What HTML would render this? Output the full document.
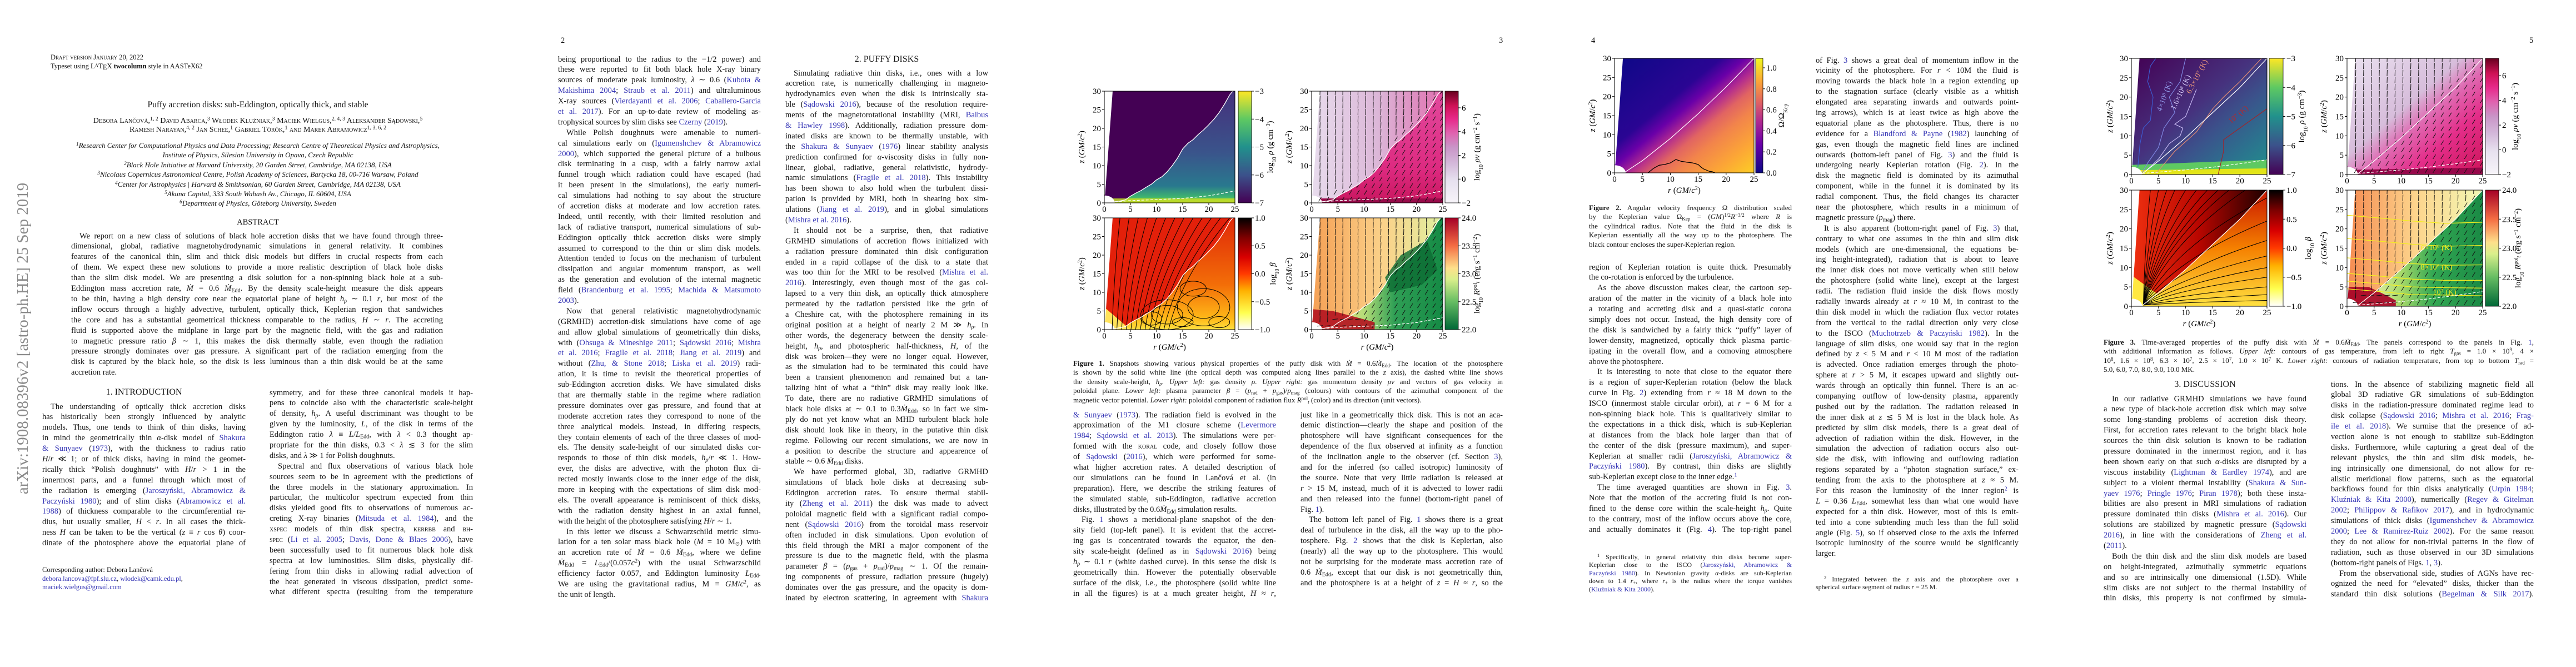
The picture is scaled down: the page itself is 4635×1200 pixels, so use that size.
<!DOCTYPE html>
<html><head><meta charset="utf-8">
<style>
html,body{margin:0;padding:0;background:#fff;}
#root{position:relative;width:4635px;height:1200px;overflow:hidden;background:#fff;font-family:"Liberation Serif",serif;color:#141414;}
.col{position:absolute;font-size:14.5px;line-height:18.9px;}
.l{height:18.9px;overflow:hidden;text-align:justify;text-align-last:justify;white-space:normal;}
.e{text-align-last:left;}
.i{text-indent:15px;}
.c{color:#3535b5;}
.cap{position:absolute;font-size:13px;line-height:16.6px;}
.cap .l{height:16.6px;}
.fn{position:absolute;font-size:12px;line-height:14.6px;}
.fn .l{height:14.6px;}
.s{font-size:70%;vertical-align:-0.25em;line-height:0;}
.u{font-size:70%;vertical-align:0.45em;line-height:0;}
.sc{font-variant:small-caps;}
.pn{position:absolute;font-size:14.5px;line-height:16px;}
.ctr{position:absolute;text-align:center;white-space:nowrap;}
#figs{position:absolute;left:0;top:0;}
</style></head>
<body>
<div id="root">

<!-- PAGE 1 -->
<div class="ctr" style="left:-279px;top:592px;width:640px;font-size:29px;line-height:34px;color:#8a8a8a;transform:rotate(-90deg);">arXiv:1908.08396v2  [astro-ph.HE]  25 Sep 2019</div>
<div style="position:absolute;left:91px;top:96px;font-size:12.5px;line-height:15px;"><span class="sc">Draft version January 20, 2022</span><br>Typeset using L<span style="font-size:9px;vertical-align:2px">A</span>T<span style="vertical-align:-2px">E</span>X <b>twocolumn</b> style in AASTeX62</div>
<div class="ctr" style="left:64px;width:800px;top:180px;font-size:15.5px;">Puffy accretion disks: sub-Eddington, optically thick, and stable</div>
<div class="ctr sc" style="left:64px;width:800px;top:210px;font-size:14px;line-height:16px;">Debora Lančová,<span class="u">1, 2</span> David Abarca,<span class="u">3</span> Włodek Kluźniak,<span class="u">3</span> Maciek Wielgus,<span class="u">2, 4, 3</span> Aleksander Sądowski,<span class="u">5</span><br>Ramesh Narayan,<span class="u">4, 2</span> Jan Schee,<span class="u">1</span> Gabriel Török,<span class="u">1</span> and Marek Abramowicz<span class="u">1, 3, 6, 2</span></div>
<div class="ctr" style="left:64px;width:800px;top:253px;font-size:13px;line-height:17.4px;font-style:italic;"><span class="u">1</span>Research Center for Computational Physics and Data Processing; Research Centre of Theoretical Physics and Astrophysics,<br>Institute of Physics, Silesian University in Opava, Czech Republic<br><span class="u">2</span>Black Hole Initiative at Harvard University, 20 Garden Street, Cambridge, MA 02138, USA<br><span class="u">3</span>Nicolaus Copernicus Astronomical Centre, Polish Academy of Sciences, Bartycka 18, 00-716 Warsaw, Poland<br><span class="u">4</span>Center for Astrophysics | Harvard &amp; Smithsonian, 60 Garden Street, Cambridge, MA 02138, USA<br><span class="u">5</span>Akuna Capital, 333 South Wabash Av., Chicago, IL 60604, USA<br><span class="u">6</span>Department of Physics, Göteborg University, Sweden</div>
<div class="ctr" style="left:364px;width:200px;top:392px;font-size:14.5px;">ABSTRACT</div>
<div class="col" style="left:128px;top:415.6px;width:669px;line-height:18.85px;">
<div class="l i">We report on a new class of solutions of black hole accretion disks that we have found through three-</div>
<div class="l">dimensional, global, radiative magnetohydrodynamic simulations in general relativity. It combines</div>
<div class="l">features of the canonical thin, slim and thick disk models but differs in crucial respects from each</div>
<div class="l">of them. We expect these new solutions to provide a more realistic description of black hole disks</div>
<div class="l">than the slim disk model. We are presenting a disk solution for a non-spinning black hole at a sub-</div>
<div class="l">Eddington mass accretion rate, <i>Ṁ</i> = 0.6 <i>Ṁ</i><span class="s">Edd</span>. By the density scale-height measure the disk appears</div>
<div class="l">to be thin, having a high density core near the equatorial plane of height <i>h<span class="s">ρ</span></i> ∼ 0.1 <i>r</i>, but most of the</div>
<div class="l">inflow occurs through a highly advective, turbulent, optically thick, Keplerian region that sandwiches</div>
<div class="l">the core and has a substantial geometrical thickness comparable to the radius, <i>H</i> ∼ <i>r</i>. The accreting</div>
<div class="l">fluid is supported above the midplane in large part by the magnetic field, with the gas and radiation</div>
<div class="l">to magnetic pressure ratio <i>β</i> ∼ 1, this makes the disk thermally stable, even though the radiation</div>
<div class="l">pressure strongly dominates over gas pressure. A significant part of the radiation emerging from the</div>
<div class="l">disk is captured by the black hole, so the disk is less luminous than a thin disk would be at the same</div>
<div class="l e">accretion rate.</div>
</div>
<div class="ctr" style="left:76px;width:366px;top:697px;">1. INTRODUCTION</div>
<div class="col" style="left:76px;top:722.5px;width:366px;">
<div class="l i">The understanding of optically thick accretion disks</div>
<div class="l">has historically been strongly influenced by analytic</div>
<div class="l">models. Thus, one tends to think of thin disks, having</div>
<div class="l">in mind the geometrically thin <i>α</i>-disk model of <span class="c">Shakura</span></div>
<div class="l"><span class="c">&amp; Sunyaev</span> (<span class="c">1973</span>), with the thickness to radius ratio</div>
<div class="l"><i>H</i>/<i>r</i> ≪ 1; or of thick disks, having in mind the geomet-</div>
<div class="l">rically thick “Polish doughnuts” with <i>H</i>/<i>r</i> &gt; 1 in the</div>
<div class="l">innermost parts, and a funnel through which most of</div>
<div class="l">the radiation is emerging (<span class="c">Jaroszyński, Abramowicz &amp;</span></div>
<div class="l"><span class="c">Paczyński 1980</span>); and of slim disks (<span class="c">Abramowicz et al.</span></div>
<div class="l"><span class="c">1988</span>) of thickness comparable to the circumferential ra-</div>
<div class="l">dius, but usually smaller, <i>H</i> &lt; <i>r</i>. In all cases the thick-</div>
<div class="l">ness <i>H</i> can be taken to be the vertical (<i>z</i> ≡ <i>r</i> cos <i>θ</i>) coor-</div>
<div class="l">dinate of the photosphere above the equatorial plane of</div>
</div>
<div style="position:absolute;left:76px;top:1018px;font-size:12.5px;line-height:15.5px;">Corresponding author: Debora Lančová<br><span class="c">debora.lancova@fpf.slu.cz</span>, <span class="c">wlodek@camk.edu.pl</span>,<br><span class="c">maciek.wielgus@gmail.com</span></div>
<div class="col" style="left:485px;top:697.5px;width:366px;">
<div class="l">symmetry, and for these three canonical models it hap-</div>
<div class="l">pens to coincide also with the characteristic scale-height</div>
<div class="l">of density, <i>h<span class="s">ρ</span></i>. A useful discriminant was thought to be</div>
<div class="l">given by the luminosity, <i>L</i>, of the disk in terms of the</div>
<div class="l">Eddington ratio <i>λ</i> ≡ <i>L</i>/<i>L</i><span class="s">Edd</span>, with <i>λ</i> &lt; 0.3 thought ap-</div>
<div class="l">propriate for the thin disks, 0.3 &lt; <i>λ</i> ≲ 3 for the slim</div>
<div class="l e">disks, and <i>λ</i> ≫ 1 for Polish doughnuts.</div>
<div class="l i">Spectral and flux observations of various black hole</div>
<div class="l">sources seem to be in agreement with the predictions of</div>
<div class="l">the three models in the stationary approximation. In</div>
<div class="l">particular, the multicolor spectrum expected from thin</div>
<div class="l">disks yielded good fits to observations of numerous ac-</div>
<div class="l">creting X-ray binaries (<span class="c">Mitsuda et al. 1984</span>), and the</div>
<div class="l"><span class="sc">xspec</span> models of thin disk spectra, <span class="sc">kerrbb</span> and <span class="sc">bh-</span></div>
<div class="l"><span class="sc">spec</span> (<span class="c">Li et al. 2005</span>; <span class="c">Davis, Done &amp; Blaes 2006</span>), have</div>
<div class="l">been successfully used to fit numerous black hole disk</div>
<div class="l">spectra at low luminosities. Slim disks, physically dif-</div>
<div class="l">fering from thin disks in allowing radial advection of</div>
<div class="l">the heat generated in viscous dissipation, predict some-</div>
<div class="l">what different spectra (resulting from the temperature</div>
</div>

<!-- PAGE 2 -->
<div class="pn" style="left:1009px;top:65px;">2</div>
<div class="col" style="left:1004px;top:97.5px;width:365px;line-height:18.88px;">
<div class="l">being proportional to the radius to the −1/2 power) and</div>
<div class="l">these were reported to fit both black hole X-ray binary</div>
<div class="l">sources of moderate peak luminosity, <i>λ</i> ∼ 0.6 (<span class="c">Kubota &amp;</span></div>
<div class="l"><span class="c">Makishima 2004</span>; <span class="c">Straub et al. 2011</span>) and ultraluminous</div>
<div class="l">X-ray sources (<span class="c">Vierdayanti et al. 2006</span>; <span class="c">Caballero-Garcia</span></div>
<div class="l"><span class="c">et al. 2017</span>). For an up-to-date review of modeling as-</div>
<div class="l e">trophysical sources by slim disks see <span class="c">Czerny</span> (<span class="c">2019</span>).</div>
<div class="l i">While Polish doughnuts were amenable to numeri-</div>
<div class="l">cal simulations early on (<span class="c">Igumenshchev &amp; Abramowicz</span></div>
<div class="l"><span class="c">2000</span>), which supported the general picture of a bulbous</div>
<div class="l">disk terminating in a cusp, with a fairly narrow axial</div>
<div class="l">funnel trough which radiation could have escaped (had</div>
<div class="l">it been present in the simulations), the early numeri-</div>
<div class="l">cal simulations had nothing to say about the structure</div>
<div class="l">of accretion disks at moderate and low accretion rates.</div>
<div class="l">Indeed, until recently, with their limited resolution and</div>
<div class="l">lack of radiative transport, numerical simulations of sub-</div>
<div class="l">Eddington optically thick accretion disks were simply</div>
<div class="l">assumed to correspond to the thin or slim disk models.</div>
<div class="l">Attention tended to focus on the mechanism of turbulent</div>
<div class="l">dissipation and angular momentum transport, as well</div>
<div class="l">as the generation and evolution of the internal magnetic</div>
<div class="l">field (<span class="c">Brandenburg et al. 1995</span>; <span class="c">Machida &amp; Matsumoto</span></div>
<div class="l e"><span class="c">2003</span>).</div>
<div class="l i">Now that general relativistic magnetohydrodynamic</div>
<div class="l">(GRMHD) accretion-disk simulations have come of age</div>
<div class="l">and allow global simulations of geometrically thin disks,</div>
<div class="l">with (<span class="c">Ohsuga &amp; Mineshige 2011</span>; <span class="c">Sądowski 2016</span>; <span class="c">Mishra</span></div>
<div class="l"><span class="c">et al. 2016</span>; <span class="c">Fragile et al. 2018</span>; <span class="c">Jiang et al. 2019</span>) and</div>
<div class="l">without (<span class="c">Zhu, &amp; Stone 2018</span>; <span class="c">Liska et al. 2019</span>) radi-</div>
<div class="l">ation, it is time to revisit the theoretical properties of</div>
<div class="l">sub-Eddington accretion disks. We have simulated disks</div>
<div class="l">that are thermally stable in the regime where radiation</div>
<div class="l">pressure dominates over gas pressure, and found that at</div>
<div class="l">moderate accretion rates they correspond to none of the</div>
<div class="l">three analytical models. Instead, in differing respects,</div>
<div class="l">they contain elements of each of the three classes of mod-</div>
<div class="l">els. The density scale-height of our simulated disks cor-</div>
<div class="l">responds to those of thin disk models, <i>h<span class="s">ρ</span></i>/<i>r</i> ≪ 1. How-</div>
<div class="l">ever, the disks are advective, with the photon flux di-</div>
<div class="l">rected mostly inwards close to the inner edge of the disk,</div>
<div class="l">more in keeping with the expectations of slim disk mod-</div>
<div class="l">els. The overall appearance is reminiscent of thick disks,</div>
<div class="l">with the radiation density highest in an axial funnel,</div>
<div class="l e">with the height of the photosphere satisfying <i>H</i>/<i>r</i> ∼ 1.</div>
<div class="l i">In this letter we discuss a Schwarzschild metric simu-</div>
<div class="l">lation for a ten solar mass black hole (<i>M</i> = 10 M<span class="s">⊙</span>) with</div>
<div class="l">an accretion rate of <i>Ṁ</i> = 0.6 <i>Ṁ</i><span class="s">Edd</span>, where we define</div>
<div class="l"><i>Ṁ</i><span class="s">Edd</span> = <i>L</i><span class="s">Edd</span>/(0.057<i>c</i><span class="u">2</span>) with the usual Schwarzschild</div>
<div class="l">efficiency factor 0.057, and Eddington luminosity <i>L</i><span class="s">Edd</span>.</div>
<div class="l">We are using the gravitational radius, M ≡ <i>GM</i>/<i>c</i><span class="u">2</span>, as</div>
<div class="l e">the unit of length.</div>
</div>
<div class="ctr" style="left:1413px;width:365px;top:98px;">2. PUFFY DISKS</div>
<div class="col" style="left:1413px;top:122.5px;width:365px;line-height:18.88px;">
<div class="l i">Simulating radiative thin disks, i.e., ones with a low</div>
<div class="l">accretion rate, is numerically challenging in magneto-</div>
<div class="l">hydrodynamics even when the disk is intrinsically sta-</div>
<div class="l">ble (<span class="c">Sądowski 2016</span>), because of the resolution require-</div>
<div class="l">ments of the magnetorotational instability (MRI, <span class="c">Balbus</span></div>
<div class="l"><span class="c">&amp; Hawley 1998</span>). Additionally, radiation pressure dom-</div>
<div class="l">inated disks are known to be thermally unstable, with</div>
<div class="l">the <span class="c">Shakura &amp; Sunyaev</span> (<span class="c">1976</span>) linear stability analysis</div>
<div class="l">prediction confirmed for <i>α</i>-viscosity disks in fully non-</div>
<div class="l">linear, global, radiative, general relativistic, hydrody-</div>
<div class="l">namic simulations (<span class="c">Fragile et al. 2018</span>). This instability</div>
<div class="l">has been shown to also hold when the turbulent dissi-</div>
<div class="l">pation is provided by MRI, both in shearing box sim-</div>
<div class="l">ulations (<span class="c">Jiang et al. 2019</span>), and in global simulations</div>
<div class="l e">(<span class="c">Mishra et al. 2016</span>).</div>
<div class="l i">It should not be a surprise, then, that radiative</div>
<div class="l">GRMHD simulations of accretion flows initialized with</div>
<div class="l">a radiation pressure dominated thin disk configuration</div>
<div class="l">ended in a rapid collapse of the disk to a state that</div>
<div class="l">was too thin for the MRI to be resolved (<span class="c">Mishra et al.</span></div>
<div class="l"><span class="c">2016</span>). Interestingly, even though most of the gas col-</div>
<div class="l">lapsed to a very thin disk, an optically thick atmosphere</div>
<div class="l">permeated by the radiation persisted like the grin of</div>
<div class="l">a Cheshire cat, with the photosphere remaining in its</div>
<div class="l">original position at a height of nearly 2 M ≫ <i>h<span class="s">ρ</span></i>. In</div>
<div class="l">other words, the degeneracy between the density scale-</div>
<div class="l">height, <i>h<span class="s">ρ</span></i>, and photospheric half-thickness, <i>H</i>, of the</div>
<div class="l">disk was broken—they were no longer equal. However,</div>
<div class="l">as the simulation had to be terminated this could have</div>
<div class="l">been a transient phenomenon and remained but a tan-</div>
<div class="l">talizing hint of what a “thin” disk may really look like.</div>
<div class="l">To date, there are no radiative GRMHD simulations of</div>
<div class="l">black hole disks at ∼ 0.1 to 0.3<i>Ṁ</i><span class="s">Edd</span>, so in fact we sim-</div>
<div class="l">ply do not yet know what an MHD turbulent black hole</div>
<div class="l">disk should look like in theory, in the putative thin disk</div>
<div class="l">regime. Following our recent simulations, we are now in</div>
<div class="l">a position to describe the structure and appearence of</div>
<div class="l e">stable ∼ 0.6 <i>Ṁ</i><span class="s">Edd</span> disks.</div>
<div class="l i">We have performed global, 3D, radiative GRMHD</div>
<div class="l">simulations of black hole disks at decreasing sub-</div>
<div class="l">Eddington accretion rates. To ensure thermal stabil-</div>
<div class="l">ity (<span class="c">Zheng et al. 2011</span>) the disk was made to advect</div>
<div class="l">poloidal magnetic field with a significant radial compo-</div>
<div class="l">nent (<span class="c">Sądowski 2016</span>) from the toroidal mass reservoir</div>
<div class="l">often included in disk simulations. Upon evolution of</div>
<div class="l">this field through the MRI a major component of the</div>
<div class="l">pressure is due to the magnetic field, with the plasma</div>
<div class="l">parameter <i>β</i> = (<i>p</i><span class="s">gas</span> + <i>p</i><span class="s">rad</span>)/<i>p</i><span class="s">mag</span> ∼ 1. Of the remain-</div>
<div class="l">ing components of pressure, radiation pressure (hugely)</div>
<div class="l">dominates over the gas pressure, and the opacity is dom-</div>
<div class="l">inated by electron scattering, in agreement with <span class="c">Shakura</span></div>
</div>

<!-- PAGE 3 -->
<div class="pn" style="left:2697px;top:65px;">3</div>
<div class="cap" style="left:1931px;top:645.7px;width:773px;line-height:16.5px;">
<div class="l"><b>Figure 1.</b> Snapshots showing various physical properties of the puffy disk with <i>Ṁ</i> = 0.6<i>Ṁ</i><span class="s">Edd</span>. The location of the photosphere</div>
<div class="l">is shown by the solid white line (the optical depth was computed along lines parallel to the <i>z</i> axis), the dashed white line shows</div>
<div class="l">the density scale-height, <i>h<span class="s">ρ</span></i>. <i>Upper left:</i> gas density <i>ρ</i>. <i>Upper right:</i> gas momentum density <i>ρv</i> and vectors of gas velocity in</div>
<div class="l">poloidal plane. <i>Lower left:</i> plasma parameter <i>β</i> = (<i>p</i><span class="s">rad</span> + <i>p</i><span class="s">gas</span>)/<i>p</i><span class="s">mag</span> (colours) with contours of the azimuthal component of the</div>
<div class="l e">magnetic vector potential. <i>Lower right:</i> poloidal component of radiation flux <i>R</i><span class="u">pol</span><span class="s"><i>t</i></span> (color) and its direction (unit vectors).</div>
</div>
<div class="col" style="left:1931px;top:737.5px;width:365px;">
<div class="l"><span class="c">&amp; Sunyaev</span> (<span class="c">1973</span>). The radiation field is evolved in the</div>
<div class="l">approximation of the M1 closure scheme (<span class="c">Levermore</span></div>
<div class="l"><span class="c">1984</span>; <span class="c">Sądowski et al. 2013</span>). The simulations were per-</div>
<div class="l">formed with the <span class="sc">koral</span> code, and closely follow those</div>
<div class="l">of <span class="c">Sądowski</span> (<span class="c">2016</span>), which were performed for some-</div>
<div class="l">what higher accretion rates. A detailed description of</div>
<div class="l">our simulations can be found in Lančová et al. (in</div>
<div class="l">preparation). Here, we describe the striking features of</div>
<div class="l">the simulated stable, sub-Eddington, radiative accretion</div>
<div class="l e">disks, illustrated by the 0.6<i>Ṁ</i><span class="s">Edd</span> simulation results.</div>
<div class="l i">Fig. <span class="c">1</span> shows a meridional-plane snapshot of the den-</div>
<div class="l">sity field (top-left panel). It is evident that the accret-</div>
<div class="l">ing gas is concentrated towards the equator, the den-</div>
<div class="l">sity scale-height (defined as in <span class="c">Sądowski 2016</span>) being</div>
<div class="l"><i>h<span class="s">ρ</span></i> ∼ 0.1 <i>r</i> (white dashed curve). In this sense the disk is</div>
<div class="l">geometrically thin. However the potentially observable</div>
<div class="l">surface of the disk, i.e., the photosphere (solid white line</div>
<div class="l">in all the figures) is at a much greater height, <i>H</i> ≈ <i>r</i>,</div>
</div>
<div class="col" style="left:2340px;top:737.5px;width:364px;">
<div class="l">just like in a geometrically thick disk. This is not an aca-</div>
<div class="l">demic distinction—clearly the shape and position of the</div>
<div class="l">photosphere will have significant consequences for the</div>
<div class="l">dependence of the flux observed at infinity as a function</div>
<div class="l">of the inclination angle to the observer (cf. Section <span class="c">3</span>),</div>
<div class="l">and for the inferred (so called isotropic) luminosity of</div>
<div class="l">the source. Note that very little radiation is released at</div>
<div class="l"><i>r</i> &gt; 15 M, instead, much of it is advected to lower radii</div>
<div class="l">and then released into the funnel (bottom-right panel of</div>
<div class="l e">Fig. <span class="c">1</span>).</div>
<div class="l i">The bottom left panel of Fig. <span class="c">1</span> shows there is a great</div>
<div class="l">deal of turbulence in the disk, all the way up to the pho-</div>
<div class="l">tosphere. Fig. <span class="c">2</span> shows that the disk is Keplerian, also</div>
<div class="l">(nearly) all the way up to the photosphere. This would</div>
<div class="l">not be surprising for the moderate mass accretion rate of</div>
<div class="l">0.6 <i>Ṁ</i><span class="s">Edd</span>, except that our disk is not geometrically thin,</div>
<div class="l">and the photosphere is at a height of <i>z</i> = <i>H</i> ≈ <i>r</i>, so the</div>
</div>

<!-- PAGE 4 -->
<div class="pn" style="left:2863px;top:65px;">4</div>
<div class="cap" style="left:2859px;top:365.6px;width:365px;line-height:16.75px;">
<div class="l"><b>Figure 2.</b> Angular velocity frequency Ω distribution scaled</div>
<div class="l">by the Keplerian value Ω<span class="s">Kep</span> = (<i>GM</i>)<span class="u">1/2</span><i>R</i><span class="u">−3/2</span> where <i>R</i> is</div>
<div class="l">the cylindrical radius. Note that the fluid in the disk is</div>
<div class="l">Keplerian essentially all the way up to the photosphere. The</div>
<div class="l e">black contour encloses the super-Keplerian region.</div>
</div>
<div class="col" style="left:2859px;top:471.5px;width:365px;">
<div class="l">region of Keplerian rotation is quite thick. Presumably</div>
<div class="l e">the co-rotation is enforced by the turbulence.</div>
<div class="l i">As the above discussion makes clear, the cartoon sep-</div>
<div class="l">aration of the matter in the vicinity of a black hole into</div>
<div class="l">a rotating and accreting disk and a quasi-static corona</div>
<div class="l">simply does not occur. Instead, the high density core of</div>
<div class="l">the disk is sandwiched by a fairly thick “puffy” layer of</div>
<div class="l">lower-density, magnetized, optically thick plasma partic-</div>
<div class="l">ipating in the overall flow, and a comoving atmosphere</div>
<div class="l e">above the photosphere.</div>
<div class="l i">It is interesting to note that close to the equator there</div>
<div class="l">is a region of super-Keplerian rotation (below the black</div>
<div class="l">curve in Fig. <span class="c">2</span>) extending from <i>r</i> ≈ 18 M down to the</div>
<div class="l">ISCO (innermost stable circular orbit), at <i>r</i> = 6 M for a</div>
<div class="l">non-spinning black hole. This is qualitatively similar to</div>
<div class="l">the expectations in a thick disk, which is sub-Keplerian</div>
<div class="l">at distances from the black hole larger than that of</div>
<div class="l">the center of the disk (pressure maximum), and super-</div>
<div class="l">Keplerian at smaller radii (<span class="c">Jaroszyński, Abramowicz &amp;</span></div>
<div class="l"><span class="c">Paczyński 1980</span>). By contrast, thin disks are slightly</div>
<div class="l e">sub-Keplerian except close to the inner edge.<span class="u c">1</span></div>
<div class="l i">The time averaged quantities are shown in Fig. <span class="c">3</span>.</div>
<div class="l">Note that the motion of the accreting fluid is not con-</div>
<div class="l">fined to the dense core within the scale-height <i>h<span class="s">ρ</span></i>. Quite</div>
<div class="l">to the contrary, most of the inflow occurs above the core,</div>
<div class="l">and actually dominates it (Fig. <span class="c">4</span>). The top-right panel</div>
</div>
<div class="fn" style="left:2859px;top:994.7px;width:365px;">
<div class="l i"><span class="u">1</span> Specifically, in general relativity thin disks become super-</div>
<div class="l">Keplerian close to the ISCO (<span class="c">Jaroszyński, Abramowicz &amp;</span></div>
<div class="l"><span class="c">Paczyński 1980</span>). In Newtonian gravity <i>α</i>-disks are sub-Keplerian</div>
<div class="l">down to 1.4 <i>r</i><span class="s">+</span>, where <i>r</i><span class="s">+</span> is the radius where the torque vanishes</div>
<div class="l e">(<span class="c">Kluźniak &amp; Kita 2000</span>).</div>
</div>
<div class="col" style="left:3267px;top:99.5px;width:365px;line-height:18.85px;">
<div class="l">of Fig. <span class="c">3</span> shows a great deal of momentum inflow in the</div>
<div class="l">vicinity of the photosphere. For <i>r</i> &lt; 10M the fluid is</div>
<div class="l">moving towards the black hole in a region extending up</div>
<div class="l">to the stagnation surface (clearly visible as a whitish</div>
<div class="l">elongated area separating inwards and outwards point-</div>
<div class="l">ing arrows), which is at least twice as high above the</div>
<div class="l">equatorial plane as the photosphere. Thus, there is no</div>
<div class="l">evidence for a <span class="c">Blandford &amp; Payne</span> (<span class="c">1982</span>) launching of</div>
<div class="l">gas, even though the magnetic field lines are inclined</div>
<div class="l">outwards (bottom-left panel of Fig. <span class="c">3</span>) and the fluid is</div>
<div class="l">undergoing nearly Keplerian rotation (Fig. <span class="c">2</span>). In the</div>
<div class="l">disk the magnetic field is dominated by its azimuthal</div>
<div class="l">component, while in the funnel it is dominated by its</div>
<div class="l">radial component. Thus, the field changes its character</div>
<div class="l">near the photosphere, which results in a minimum of</div>
<div class="l e">magnetic pressure (<i>p</i><span class="s">mag</span>) there.</div>
<div class="l i">It is also apparent (bottom-right panel of Fig. <span class="c">3</span>) that,</div>
<div class="l">contrary to what one assumes in the thin and slim disk</div>
<div class="l">models (which are one-dimensional, the equations be-</div>
<div class="l">ing height-integrated), radiation that is about to leave</div>
<div class="l">the inner disk does not move vertically when still below</div>
<div class="l">the photosphere (solid white line), except at the largest</div>
<div class="l">radii. The radiation fluid inside the disk flows mostly</div>
<div class="l">radially inwards already at <i>r</i> ≈ 10 M, in contrast to the</div>
<div class="l">thin disk model in which the radiation flux vector rotates</div>
<div class="l">from the vertical to the radial direction only very close</div>
<div class="l">to the ISCO (<span class="c">Muchotrzeb &amp; Paczyński 1982</span>). In the</div>
<div class="l">language of slim disks, one would say that in the region</div>
<div class="l">defined by <i>z</i> &lt; 5 M and <i>r</i> &lt; 10 M most of the radiation</div>
<div class="l">is advected. Once radiation emerges through the photo-</div>
<div class="l">sphere at <i>r</i> &gt; 5 M, it escapes upward and slightly out-</div>
<div class="l">wards through an optically thin funnel. There is an ac-</div>
<div class="l">companying outflow of low-density plasma, apparently</div>
<div class="l">pushed out by the radiation. The radiation released in</div>
<div class="l">the inner disk at <i>z</i> ≲ 5 M is lost in the black hole. As</div>
<div class="l">predicted by slim disk models, there is a great deal of</div>
<div class="l">advection of radiation within the disk. However, in the</div>
<div class="l">simulation the advection of radiation occurs also out-</div>
<div class="l">side the disk, with inflowing and outflowing radiation</div>
<div class="l">regions separated by a “photon stagnation surface,” ex-</div>
<div class="l">tending from the axis to the photosphere at <i>z</i> ≈ 5 M.</div>
<div class="l">For this reason the luminosity of the inner region<span class="u c">2</span> is</div>
<div class="l"><i>L</i> = 0.36 <i>L</i><span class="s">Edd</span>, somewhat less than what one would have</div>
<div class="l">expected for a thin disk. However, most of this is emit-</div>
<div class="l">ted into a cone subtending much less than the full solid</div>
<div class="l">angle (Fig. <span class="c">5</span>), so if observed close to the axis the inferred</div>
<div class="l">isotropic luminosity of the source would be significantly</div>
<div class="l e">larger.</div>
</div>
<div class="fn" style="left:3267px;top:1034.7px;width:365px;">
<div class="l i"><span class="u">2</span> Integrated between the <i>z</i> axis and the photosphere over a</div>
<div class="l e">spherical surface segment of radius <i>r</i> = 25 M.</div>
</div>

<!-- PAGE 5 -->
<div class="pn" style="left:4551px;top:65px;">5</div>
<div class="cap" style="left:3785px;top:607.6px;width:774px;line-height:16.75px;">
<div class="l"><b>Figure 3.</b> Time-averaged properties of the puffy disk with <i>Ṁ</i> = 0.6<i>Ṁ</i><span class="s">Edd</span>. The panels correspond to the panels in Fig. <span class="c">1</span>,</div>
<div class="l">with additional information as follows. <i>Upper left:</i> contours of gas temperature, from left to right <i>T</i><span class="s">gas</span> = 1.0 × 10<span class="u">9</span>, 4 ×</div>
<div class="l">10<span class="u">8</span>, 1.6 × 10<span class="u">8</span>, 6.3 × 10<span class="u">7</span>, 2.5 × 10<span class="u">7</span>, 1.0 × 10<span class="u">7</span> K. <i>Lower right:</i> contours of radiation temperature, from top to bottom <i>T</i><span class="s">rad</span> =</div>
<div class="l e">5.0, 6.0, 7.0, 8.0, 9.0, 10.0 MK.</div>
</div>
<div class="ctr" style="left:3785px;width:365px;top:683px;">3. DISCUSSION</div>
<div class="col" style="left:3785px;top:708.5px;width:365px;">
<div class="l i">In our radiative GRMHD simulations we have found</div>
<div class="l">a new type of black-hole accretion disk which may solve</div>
<div class="l">some long-standing problems of accretion disk theory.</div>
<div class="l">First, for accretion rates relevant to the bright black hole</div>
<div class="l">sources the thin disk solution is known to be radiation</div>
<div class="l">pressure dominated in the innermost region, and it has</div>
<div class="l">been shown early on that such <i>α</i>-disks are disrupted by a</div>
<div class="l">viscous instability (<span class="c">Lightman &amp; Eardley 1974</span>), and are</div>
<div class="l">subject to a violent thermal instability (<span class="c">Shakura &amp; Sun-</span></div>
<div class="l"><span class="c">yaev 1976</span>; <span class="c">Pringle 1976</span>; <span class="c">Piran 1978</span>); both these insta-</div>
<div class="l">bilities are also present in MRI simulations of radiation</div>
<div class="l">pressure dominated thin disks (<span class="c">Mishra et al. 2016</span>). Our</div>
<div class="l">solutions are stabilized by magnetic pressure (<span class="c">Sądowski</span></div>
<div class="l"><span class="c">2016</span>), in line with the considerations of <span class="c">Zheng et al.</span></div>
<div class="l e">(<span class="c">2011</span>).</div>
<div class="l i">Both the thin disk and the slim disk models are based</div>
<div class="l">on height-integrated, azimuthally symmetric equations</div>
<div class="l">and so are intrinsically one dimensional (1.5D). While</div>
<div class="l">slim disks are not subject to the thermal instability of</div>
<div class="l">thin disks, this property is not confirmed by simula-</div>
</div>
<div class="col" style="left:4194px;top:682.5px;width:365px;line-height:18.95px;">
<div class="l">tions. In the absence of stabilizing magnetic field all</div>
<div class="l">global 3D radiative GR simulations of sub-Eddington</div>
<div class="l">disks in the radiation-pressure dominated regime lead to</div>
<div class="l">disk collapse (<span class="c">Sądowski 2016</span>; <span class="c">Mishra et al. 2016</span>; <span class="c">Frag-</span></div>
<div class="l"><span class="c">ile et al. 2018</span>). We surmise that the presence of ad-</div>
<div class="l">vection alone is not enough to stabilize sub-Eddington</div>
<div class="l">disks. Furthermore, while capturing a great deal of the</div>
<div class="l">relevant physics, the thin and slim disk models, be-</div>
<div class="l">ing intrinsically one dimensional, do not allow for re-</div>
<div class="l">alistic meridional flow patterns, such as the equatorial</div>
<div class="l">backflows found for thin disks analytically (<span class="c">Urpin 1984</span>;</div>
<div class="l"><span class="c">Kluźniak &amp; Kita 2000</span>), numerically (<span class="c">Regev &amp; Gitelman</span></div>
<div class="l"><span class="c">2002</span>; <span class="c">Philippov &amp; Rafikov 2017</span>), and in hydrodynamic</div>
<div class="l">simulations of thick disks (<span class="c">Igumenshchev &amp; Abramowicz</span></div>
<div class="l"><span class="c">2000</span>; <span class="c">Lee &amp; Ramirez-Ruiz 2002</span>). For the same reason</div>
<div class="l">they do not allow for non-trivial patterns in the flow of</div>
<div class="l">radiation, such as those observed in our 3D simulations</div>
<div class="l e">(bottom-right panels of Figs. <span class="c">1</span>, <span class="c">3</span>).</div>
<div class="l i">From the observational side, studies of AGNs have rec-</div>
<div class="l">ognized the need for “elevated” disks, thicker than the</div>
<div class="l">standard thin disk solutions (<span class="c">Begelman &amp; Silk 2017</span>).</div>
</div>

<svg id="figs" width="4635" height="1200" viewBox="0 0 4635 1200" font-family="Liberation Serif, serif">
<defs>
<linearGradient id="g-viridis" x1="0" y1="1" x2="0" y2="0"><stop offset="0" stop-color="#440154"/><stop offset=".25" stop-color="#3b528b"/><stop offset=".5" stop-color="#21918c"/><stop offset=".75" stop-color="#5ec962"/><stop offset="1" stop-color="#fde725"/></linearGradient>
<linearGradient id="g-purd" x1="0" y1="1" x2="0" y2="0"><stop offset="0" stop-color="#f7f4f9"/><stop offset=".2" stop-color="#e7e1ef"/><stop offset=".35" stop-color="#d4b9da"/><stop offset=".5" stop-color="#c994c7"/><stop offset=".62" stop-color="#df65b0"/><stop offset=".75" stop-color="#e7298a"/><stop offset=".87" stop-color="#ce1256"/><stop offset="1" stop-color="#67001f"/></linearGradient>
<linearGradient id="g-hot" x1="0" y1="1" x2="0" y2="0"><stop offset="0" stop-color="#ffffff"/><stop offset=".15" stop-color="#ffff50"/><stop offset=".35" stop-color="#ffb000"/><stop offset=".5" stop-color="#ff3a00"/><stop offset=".65" stop-color="#d80000"/><stop offset=".82" stop-color="#800000"/><stop offset="1" stop-color="#000000"/></linearGradient>
<linearGradient id="g-rdylgn" x1="0" y1="1" x2="0" y2="0"><stop offset="0" stop-color="#006837"/><stop offset=".25" stop-color="#66bd63"/><stop offset=".45" stop-color="#d9ef8b"/><stop offset=".55" stop-color="#fee08b"/><stop offset=".75" stop-color="#f46d43"/><stop offset="1" stop-color="#a50026"/></linearGradient>
<linearGradient id="g-plasma" x1="0" y1="1" x2="0" y2="0"><stop offset="0" stop-color="#0d0887"/><stop offset=".25" stop-color="#6a00a8"/><stop offset=".45" stop-color="#b12a90"/><stop offset=".62" stop-color="#e16462"/><stop offset=".8" stop-color="#fca636"/><stop offset="1" stop-color="#f0f921"/></linearGradient>
<linearGradient id="f1tl-disk" x1="0" y1="0" x2="0" y2="1"><stop offset="0" stop-color="#45307c"/><stop offset=".55" stop-color="#3a548b"/><stop offset=".85" stop-color="#29798e"/><stop offset=".95" stop-color="#3fb56f"/><stop offset="1" stop-color="#c8e020"/></linearGradient>
<linearGradient id="f1tr-bg" x1="0" y1="0" x2="1" y2="0"><stop offset="0" stop-color="#e8dced"/><stop offset=".5" stop-color="#dcb7d8"/><stop offset="1" stop-color="#e070b0"/></linearGradient>
<linearGradient id="f1tr-disk" x1="0" y1="0" x2="0" y2="1"><stop offset="0" stop-color="#e24a9e"/><stop offset=".7" stop-color="#dd2a80"/><stop offset="1" stop-color="#c8165e"/></linearGradient>
<linearGradient id="f1bl-disk" x1="0" y1="0" x2="0" y2="1"><stop offset="0" stop-color="#e02808"/><stop offset=".6" stop-color="#f36e08"/><stop offset=".9" stop-color="#ffb818"/><stop offset="1" stop-color="#ffe040"/></linearGradient>
<linearGradient id="f1br-bg" x1="0" y1="0" x2="1" y2="0"><stop offset="0" stop-color="#f5a055"/><stop offset=".55" stop-color="#fbd28a"/><stop offset="1" stop-color="#dff0a0"/></linearGradient>
<linearGradient id="f1br-disk" x1="0" y1="0" x2="1" y2="0"><stop offset="0" stop-color="#fde08b"/><stop offset=".35" stop-color="#b5dd78"/><stop offset=".6" stop-color="#2f9f55"/><stop offset="1" stop-color="#158a45"/></linearGradient>
<linearGradient id="f2-bg" x1="0" y1="0" x2="1" y2="1"><stop offset="0" stop-color="#0d0887"/><stop offset=".38" stop-color="#2a0593"/><stop offset=".47" stop-color="#6a00a8"/><stop offset=".55" stop-color="#b12a90"/><stop offset=".63" stop-color="#e16462"/><stop offset=".72" stop-color="#f2844b"/><stop offset=".86" stop-color="#fca636"/><stop offset="1" stop-color="#fcce25"/></linearGradient>
<linearGradient id="f3tl-bg" x1="0" y1="0" x2="1" y2="1"><stop offset="0" stop-color="#440154"/><stop offset=".45" stop-color="#46327e"/><stop offset=".62" stop-color="#3b528b"/><stop offset=".8" stop-color="#2c718e"/><stop offset="1" stop-color="#21918c"/></linearGradient>
<linearGradient id="f3tr-bg" x1="0" y1="0" x2="1" y2="1"><stop offset="0" stop-color="#eae2f0"/><stop offset=".42" stop-color="#d7bddb"/><stop offset=".55" stop-color="#df6ab2"/><stop offset=".72" stop-color="#e42e8a"/><stop offset="1" stop-color="#cc1458"/></linearGradient>
<linearGradient id="f3bl-bg" x1="0" y1="0" x2="1" y2="0"><stop offset="0" stop-color="#f03010"/><stop offset=".5" stop-color="#b80600"/><stop offset="1" stop-color="#1c0000"/></linearGradient>
<linearGradient id="f3bl-disk" x1="0" y1="0" x2="0" y2="1"><stop offset="0" stop-color="#c81500"/><stop offset=".5" stop-color="#f58000"/><stop offset="1" stop-color="#ffe040"/></linearGradient>
<linearGradient id="f3br-bg" x1="0" y1="0" x2="1" y2="0"><stop offset="0" stop-color="#f58a50"/><stop offset=".5" stop-color="#fdd48c"/><stop offset="1" stop-color="#f2f8b4"/></linearGradient>
<linearGradient id="f3br-disk" x1="0" y1="0" x2="1" y2="0"><stop offset="0" stop-color="#fffcc0"/><stop offset=".35" stop-color="#a6d96a"/><stop offset=".6" stop-color="#33a853"/><stop offset="1" stop-color="#1a8a45"/></linearGradient>
</defs>
</svg>
</div>

<script>
// ---- chart data ----
const rTicks=[0,5,10,15,20,25];
const zTicks=[0,5,10,15,20,25,30];
const cbRhoTicks=[-7,-6,-5,-4,-3];
const cbRhoVTicks=[-2,0,2,4,6];
const cbBetaTicks=[-1.0,-0.5,0.0,0.5,1.0];
const cbRadTicks=[22.0,22.5,23.0,23.5,24.0];
const cbOmegaTicks=[0.0,0.2,0.4,0.6,0.8,1.0];
const cbRhoRange=[-7,-3];
const cbRhoVRange=[-2,7.4];
const cbBetaRange=[-1,1];
const cbRadRange=[22,24];
const cbOmegaRange=[0,1.09];
const fig1PhotoR=[2,3,4,5,6,7,8,9,10,11,12,13,14,15,16,17,18,19,20,21,22,23,24,24.6];
const fig1PhotoZ=[0.3,0.5,0.8,1.8,2.6,3.3,4.2,5.0,6.2,7.0,8.3,10,12,14.5,16,17,18.4,19.6,21,22.5,24.3,26.5,29,30];
const fig1ScaleR=[2,5,10,15,20,25];
const fig1ScaleZ=[0.3,0.6,0.9,1.2,1.9,3.2];
const fig2PhotoR=[2,5,10,15,20,25];
const fig2PhotoZ=[0.3,3.2,9,15.5,22.5,30];
const superKepR=[6,7,8,9,10,11,12,13,14,15,15.5,16,17,17.5,18];
const superKepZ=[0,1.2,2,2.2,2.6,3.5,3.0,2.8,2.6,2.2,1.5,1.0,0.4,0.3,0];
const fig3PhotoR=[2,5,10,15,20,25];
const fig3PhotoZ=[0.2,3.5,9.5,16,22.5,30];
const fig3ScaleR=[2,5,10,15,20,25];
const fig3ScaleZ=[0.3,0.6,1.2,1.9,2.8,3.8];
const tradLevelsZ=[22,16,11,7,5,3];

const NS='http://www.w3.org/2000/svg';
const svg=document.getElementById('figs');
function mk(tag,attrs,parent){const e=document.createElementNS(NS,tag);for(const k in attrs)e.setAttribute(k,attrs[k]);(parent||svg).appendChild(e);return e;}
function fmt(v,d){return v.toFixed(d).replace('-','−');}
function interp(R,Z,r){if(r<=R[0])return Z[0];for(let i=1;i<R.length;i++){if(r<=R[i]){const t=(r-R[i-1])/(R[i]-R[i-1]);return Z[i-1]+t*(Z[i]-Z[i-1]);}}return Z[Z.length-1];}
function ptsStr(R,Z,p){return R.map((r,i)=>p.X(r).toFixed(1)+','+p.Y(Z[i]).toFixed(1)).join(' ');}

function panel(c){
  const g=mk('g',{});
  
  
  const p={c,g,X:r=>c.px+r/25*c.pw,Y:z=>c.py+c.ph-z/30*c.ph};
  const cp=mk('clipPath',{id:'clip-'+c.name},g);
  mk('rect',{x:c.px,y:c.py,width:c.pw,height:c.ph},cp);
  p.inner=mk('g',{'clip-path':'url(#clip-'+c.name+')'},g);
  return p;
}
function fillBg(p,fill){
  const r=mk('rect',{x:p.c.px,y:p.c.py,width:p.c.pw,height:p.c.ph,fill:fill},p.inner);
  
  
}
function diskRegion(p,R,Z,fill){
  let rr=R.slice(),zz=Z.slice();
  if(zz[zz.length-1]>=30&&rr[rr.length-1]<25){rr.push(25);zz.push(30);}
  rr.push(25);zz.push(0);rr.push(R[0]);zz.push(0);
  const e=mk('polygon',{points:ptsStr(rr,zz,p),fill:fill},p.inner);
  
  
}
function shape(p,R,Z,fill,name,op){
  const e=mk('polygon',{points:ptsStr(R,Z,p),fill:fill,opacity:op||1},p.inner);
  
  
}
function curve(p,R,Z,stroke,w,dash,name){
  const e=mk('polyline',{points:ptsStr(R,Z,p),fill:'none',stroke:stroke,'stroke-width':w,'stroke-dasharray':dash||'none'},p.inner);
  
  
}
function blackHole(p,wedgeTop){
  shape(p,[0,wedgeTop,0.15,0],[30,30,2.2,2.2],'#ffffff','funnel-mask');
  const e=mk('ellipse',{cx:p.X(0),cy:p.Y(0),rx:2/25*p.c.pw,ry:2/30*p.c.ph,fill:'#ffffff'},p.inner);
  
  
}
function arrows(p,R,Z,mode){
  const g=mk('g',{stroke:'#111','stroke-width':1},p.inner);
  
  
  for(let r=1.6;r<25;r+=1.45){for(let z=1;z<30;z+=1.8){
    const zp=interp(R,Z,r);let dx,dy;
    if(z>zp+1.5){dx=0.4;dy=-11;}
    else if(mode==='rad'&&z<4&&r<10){dx=-10;dy=1;}
    else{dx=5;dy=-8;}
    const x=p.X(r),y=p.Y(z);
    const ln=mk('line',{x1:(x-dx/2).toFixed(1),y1:(y-dy/2).toFixed(1),x2:(x+dx/2).toFixed(1),y2:(y+dy/2).toFixed(1)},g);
    
    
  }}
}
function axes(p,showXLabel,yLabelX){
  const c=p.c,g=p.g;
  const fr=mk('rect',{x:c.px,y:c.py,width:c.pw,height:c.ph,fill:'none',stroke:'#000','stroke-width':1},g);
  
  
  zTicks.forEach(t=>{const y=p.Y(t);
    const tk=mk('line',{x1:c.px-4,y1:y,x2:c.px,y2:y,stroke:'#000'},g);
    
    
    const tx=mk('text',{x:c.px-6,y:y+5,'text-anchor':'end','font-size':15},g);tx.textContent=String(t);
    
    });
  rTicks.forEach(t=>{const x=p.X(t);
    const tk=mk('line',{x1:x,y1:c.py+c.ph,x2:x,y2:c.py+c.ph+4,stroke:'#000'},g);
    
    
    const tx=mk('text',{x:x,y:c.py+c.ph+16,'text-anchor':'middle','font-size':15},g);tx.textContent=String(t);
    
    });
  const yl=mk('text',{x:0,y:0,'text-anchor':'middle','font-size':15,transform:'translate('+yLabelX+','+(c.py+c.ph/2)+') rotate(-90)'},g);
  yl.innerHTML='<tspan font-style="italic">z</tspan>  (<tspan font-style="italic">GM</tspan>/<tspan font-style="italic">c</tspan><tspan baseline-shift="super" font-size="10">2</tspan>)';
  
  
  if(showXLabel){
    const xl=mk('text',{x:c.px+c.pw/2,y:c.py+c.ph+36,'text-anchor':'middle','font-size':15},g);
    xl.innerHTML='<tspan font-style="italic">r</tspan>   (<tspan font-style="italic">GM</tspan>/<tspan font-style="italic">c</tspan><tspan baseline-shift="super" font-size="10">2</tspan>)';
    
    
  }
}
function colorbar(c){
  const g=mk('g',{});
  
  
  const r=mk('rect',{x:c.x,y:c.y,width:c.w,height:c.h,fill:'url(#'+c.grad+')',stroke:'#000','stroke-width':0.8},g);
  
  
  c.ticks.forEach(t=>{const y=c.y+c.h-(t-c.range[0])/(c.range[1]-c.range[0])*c.h;
    const tk=mk('line',{x1:c.x+c.w,y1:y,x2:c.x+c.w+4,y2:y,stroke:'#000'},g);
    
    
    const tx=mk('text',{x:c.x+c.w+6,y:y+5,'font-size':15},g);tx.textContent=fmt(t,c.dec);
    
    });
  const lb=mk('text',{x:0,y:0,'text-anchor':'middle','font-size':15,transform:'translate('+c.lx+','+(c.y+c.h/2)+') rotate(-90)'},g);
  lb.innerHTML=c.label;
  
  
}
const LBL_RHO='log<tspan baseline-shift="sub" font-size="10">10</tspan> <tspan font-style="italic">ρ</tspan>   (g cm<tspan baseline-shift="super" font-size="10">−3</tspan>)';
const LBL_RHOV='log<tspan baseline-shift="sub" font-size="10">10</tspan> <tspan font-style="italic">ρv</tspan>   (g cm<tspan baseline-shift="super" font-size="10">−2</tspan> s<tspan baseline-shift="super" font-size="10">−1</tspan>)';
const LBL_BETA='log<tspan baseline-shift="sub" font-size="10">10</tspan> <tspan font-style="italic">β</tspan>';
const LBL_RAD='log<tspan baseline-shift="sub" font-size="10">10</tspan> <tspan font-style="italic">R</tspan><tspan baseline-shift="super" font-size="10">pol</tspan><tspan font-size="10" font-style="italic">t</tspan>   (erg s<tspan baseline-shift="super" font-size="10">−1</tspan> cm<tspan baseline-shift="super" font-size="10">−2</tspan>)';
const LBL_OMEGA='Ω/Ω<tspan baseline-shift="sub" font-size="10">Kep</tspan>';

// ===== Figure 1 (page 3) =====
(function(){
  const L=1987,R=2360,W=236,T1=164,T2=392,H=201;
  // upper left: density
  let p=panel({name:'fig1-density-panel',px:L,py:T1,pw:W-1,ph:H});
  fillBg(p,'#440154'); diskRegion(p,fig1PhotoR,fig1PhotoZ,'url(#f1tl-disk)');
  shape(p,[0,25,25,0],[1.2,1.2,0,0],'#bfdc28','equatorial-core',0.85);
  blackHole(p,1.6);
  curve(p,fig1PhotoR,fig1PhotoZ,'#fff',1.3,null,'photosphere-line');
  curve(p,fig1ScaleR,fig1ScaleZ,'#fff',1.3,'5,3','scale-height-line');
  axes(p,false,1951);
  colorbar({name:'fig1-density-colorbar',x:2228,y:T1,w:24,h:H,grad:'g-viridis',ticks:cbRhoTicks,range:cbRhoRange,dec:0,lx:2290,label:LBL_RHO});
  // upper right: momentum density
  p=panel({name:'fig1-momentum-panel',px:R,py:T1,pw:W,ph:H});
  fillBg(p,'url(#f1tr-bg)'); diskRegion(p,fig1PhotoR,fig1PhotoZ,'url(#f1tr-disk)');
  shape(p,[0,25,25,0],[1.2,1.2,0,0],'#980b4a','equatorial-core');
  blackHole(p,1.6);
  arrows(p,fig1PhotoR,fig1PhotoZ,'gas');
  curve(p,fig1PhotoR,fig1PhotoZ,'#fff',1.3,null,'photosphere-line');
  curve(p,fig1ScaleR,fig1ScaleZ,'#fff',1.3,'5,3','scale-height-line');
  axes(p,false,2324);
  colorbar({name:'fig1-momentum-colorbar',x:2600,y:T1,w:24,h:H,grad:'g-purd',ticks:cbRhoVTicks,range:cbRhoVRange,dec:0,lx:2662,label:LBL_RHOV});
  // lower left: beta
  p=panel({name:'fig1-beta-panel',px:L,py:T2,pw:W-1,ph:H});
  fillBg(p,'#e3200a'); diskRegion(p,fig1PhotoR,fig1PhotoZ,'url(#f1bl-disk)');
  shape(p,[0,0,5,3],[0,6,0,0],'#ffe35a','inner-yellow-region');
  blackHole(p,1.6);
  const cg=mk('g',{fill:'none',stroke:'#000','stroke-width':1},p.inner);
  
  
  for(let i=0;i<13;i++){const r0=1.5+i*0.9,r1=3+i*1.75;
    const path=mk('path',{d:'M'+p.X(r0)+','+p.Y(0)+' Q'+p.X(r0+ (r1-r0)*0.2)+','+p.Y(14)+' '+p.X(r1)+','+p.Y(30)},cg);
    
    }
  [[12,4,3,2.5],[12,4,5,4],[19,6,3,3],[19,6,5,5],[15,2,2,1.2],[22,2,2,1.5],[9,3,2,1.8],[17,11,2.5,2]].forEach(e=>{
    const el=mk('ellipse',{cx:p.X(e[0]),cy:p.Y(e[1]),rx:e[2]/25*W,ry:e[3]/30*H},cg);
    
    });
  curve(p,fig1PhotoR,fig1PhotoZ,'#fff',1.3,null,'photosphere-line');
  axes(p,true,1951);
  colorbar({name:'fig1-beta-colorbar',x:2228,y:T2,w:24,h:H,grad:'g-hot',ticks:cbBetaTicks,range:cbBetaRange,dec:1,lx:2295,label:LBL_BETA});
  // lower right: radiation flux
  p=panel({name:'fig1-radiation-panel',px:R,py:T2,pw:W,ph:H});
  fillBg(p,'url(#f1br-bg)'); diskRegion(p,fig1PhotoR,fig1PhotoZ,'url(#f1br-disk)');
  shape(p,[15,21,24,22,17,14],[10,12,16,24,20,14],'#0d6b33','dark-green-region',0.8);
  shape(p,[0,0,4,8,12,12],[0,5.5,5,3.5,2,0],'#b3121f','inner-red-region',0.9);
  blackHole(p,1.6);
  arrows(p,fig1PhotoR,fig1PhotoZ,'rad');
  curve(p,fig1PhotoR,fig1PhotoZ,'#fff',1.3,null,'photosphere-line');
  curve(p,fig1ScaleR,fig1ScaleZ,'#fff',1.3,'5,3','scale-height-line');
  axes(p,true,2324);
  colorbar({name:'fig1-radiation-colorbar',x:2600,y:T2,w:24,h:H,grad:'g-rdylgn',ticks:cbRadTicks,range:cbRadRange,dec:1,lx:2662,label:LBL_RAD});
})();

// ===== Figure 2 (page 4) =====
(function(){
  const p=panel({name:'fig2-omega-panel',px:2905,py:105,pw:251,ph:206});
  fillBg(p,'url(#f2-bg)');
  blackHole(p,1.5);
  curve(p,fig2PhotoR,fig2PhotoZ,'#fff',1.2,null,'photosphere-line');
  curve(p,superKepR,superKepZ,'#000',1.3,null,'super-keplerian-contour');
  axes(p,true,2870);
  colorbar({name:'fig2-omega-colorbar',x:3159,y:105,w:13,h:206,grad:'g-plasma',ticks:cbOmegaTicks,range:cbOmegaRange,dec:1,lx:3210,label:LBL_OMEGA});
})();

// ===== Figure 3 (page 5) =====
(function(){
  const L=3835,R=4223,W=244,T1=105,T2=342,H=209;
  let p=panel({name:'fig3-density-panel',px:L,py:T1,pw:W,ph:H});
  fillBg(p,'url(#f3tl-bg)');
  shape(p,[0,25,25,0],[2.5,3.8,0,0],'#5ec962','equatorial-green');
  shape(p,[0,25,25,0],[1.1,1.6,0,0],'#e2e418','equatorial-core');
  blackHole(p,1.5);
  curve(p,[1.2,1.6,2.2,3.5,4,3,3.5,4.5],[2,8,12,14,20,24,28,30],'#3d5bd0',1.2,null,'temperature-contour-1e9');
  curve(p,[2,3,5,6,8,7,9,10],[0.5,3,7,12,16,20,24,30],'#7f86e0',1.2,null,'temperature-contour-4e8');
  curve(p,[2.2,5,7,9,9.5,8,10,12],[0.3,4,8,10,12,13,15,22],'#c4b6ef',1.2,null,'temperature-contour-1.6e8');
  curve(p,[4.5,8,12,15,17,20,22,24],[0.2,6,11,17,20,24,27,30],'#e28a72',1.2,null,'temperature-contour-6.3e7');
  curve(p,[16,16.5,17,17,19,21,23,25],[0,3,6,9,11,13,15,17],'#a2232a',1.2,null,'temperature-contour-1e7');
  curve(p,fig3PhotoR,fig3PhotoZ,'#fff',1.2,null,'photosphere-line');
  curve(p,fig3ScaleR,fig3ScaleZ,'#fff',1.2,'5,3','scale-height-line');
  [['4×10⁸ (K)',6.5,20,'#8f96e6',-70],['1.6×10⁸ (K)',9.5,21,'#d0c4f2',-65],['6.3×10⁷ (K)',12.5,25,'#e8957c',-62],['10⁷ (K)',20,15,'#b02a30',-40]].forEach(d=>{
    const t=mk('text',{x:p.X(d[1]),y:p.Y(d[2]),fill:d[3],'font-size':14,'text-anchor':'middle',transform:'rotate('+d[4]+' '+p.X(d[1])+' '+p.Y(d[2])+')'},p.g);
    t.textContent=d[0];
    
    });
  axes(p,false,3801);
  colorbar({name:'fig3-density-colorbar',x:4083,y:T1,w:25,h:H,grad:'g-viridis',ticks:cbRhoTicks,range:cbRhoRange,dec:0,lx:4146,label:LBL_RHO});

  p=panel({name:'fig3-momentum-panel',px:R,py:T1,pw:W,ph:H});
  fillBg(p,'url(#f3tr-bg)');
  shape(p,[0,25,25,0],[1.2,1.8,0,0],'#96084a','equatorial-core');
  blackHole(p,1.5);
  arrows(p,fig3PhotoR,fig3PhotoZ,'gas');
  curve(p,fig3PhotoR,fig3PhotoZ,'#fff',1.2,null,'photosphere-line');
  curve(p,fig3ScaleR,fig3ScaleZ,'#fff',1.2,'5,3','scale-height-line');
  axes(p,false,4186);
  colorbar({name:'fig3-momentum-colorbar',x:4472,y:T1,w:24,h:H,grad:'g-purd',ticks:cbRhoVTicks,range:cbRhoVRange,dec:0,lx:4530,label:LBL_RHOV});

  p=panel({name:'fig3-beta-panel',px:L,py:T2,pw:W,ph:H});
  fillBg(p,'url(#f3bl-bg)'); diskRegion(p,fig3PhotoR,fig3PhotoZ,'url(#f3bl-disk)');
  shape(p,[0,0,3,6,2],[0,8,5,2,0],'#ffe840','inner-yellow-region');
  blackHole(p,1.5);
  const cg=mk('g',{fill:'none',stroke:'#000','stroke-width':1},p.inner);
  
  
  const ox=p.X(2.2),oy=p.Y(0.3);
  [[3.5,30],[5,30],[6.5,30],[8,30],[10,30],[12,30],[14,30],[16,30],[18,30],[21,30],[25,28],[25,22],[25,17],[25,13],[25,10],[25,7.5],[25,5],[25,3],[25,1.5]].forEach(e=>{
    const ex=p.X(e[0]),ey=p.Y(e[1]);
    const path=mk('path',{d:'M'+ox+','+oy+' Q'+(ox+(ex-ox)*0.25)+','+(oy+(ey-oy)*0.55)+' '+ex+','+ey},cg);
    
    });
  curve(p,fig3PhotoR,fig3PhotoZ,'#fff',1.2,null,'photosphere-line');
  axes(p,true,3801);
  colorbar({name:'fig3-beta-colorbar',x:4083,y:T2,w:25,h:H,grad:'g-hot',ticks:cbBetaTicks,range:cbBetaRange,dec:1,lx:4158,label:LBL_BETA});

  p=panel({name:'fig3-radiation-panel',px:R,py:T2,pw:W,ph:H});
  fillBg(p,'url(#f3br-bg)'); diskRegion(p,fig3PhotoR,fig3PhotoZ,'url(#f3br-disk)');
  shape(p,[0,0,4,7,9,9],[0,5,5,3,1.5,0],'#a50026','inner-red-region',0.9);
  blackHole(p,1.5);
  arrows(p,fig3PhotoR,fig3PhotoZ,'rad');
  tradLevelsZ.forEach((z,i)=>{
    curve(p,[0,6,12,18,25],[z+1.5,z+0.8,z,z-0.6+i*0.1,z-0.3],'#f4ee20',1.3,null,'radiation-temperature-contour');});
  curve(p,fig3PhotoR,fig3PhotoZ,'#fff',1.2,null,'photosphere-line');
  curve(p,fig3ScaleR,fig3ScaleZ,'#fff',1.2,'5,3','scale-height-line');
  [['6×10⁶ (K)',16.5,14.5],['8×10⁶ (K)',16.5,9.5],['10⁷ (K)',18,3]].forEach(d=>{
    const t=mk('text',{x:p.X(d[1]),y:p.Y(d[2]),fill:'#f4ee20','font-size':14,'text-anchor':'middle'},p.g);
    t.textContent=d[0];
    
    });
  axes(p,true,4186);
  colorbar({name:'fig3-radiation-colorbar',x:4472,y:T2,w:24,h:H,grad:'g-rdylgn',ticks:cbRadTicks,range:cbRadRange,dec:1,lx:4535,label:LBL_RAD});
})();
</script>
</body></html>
